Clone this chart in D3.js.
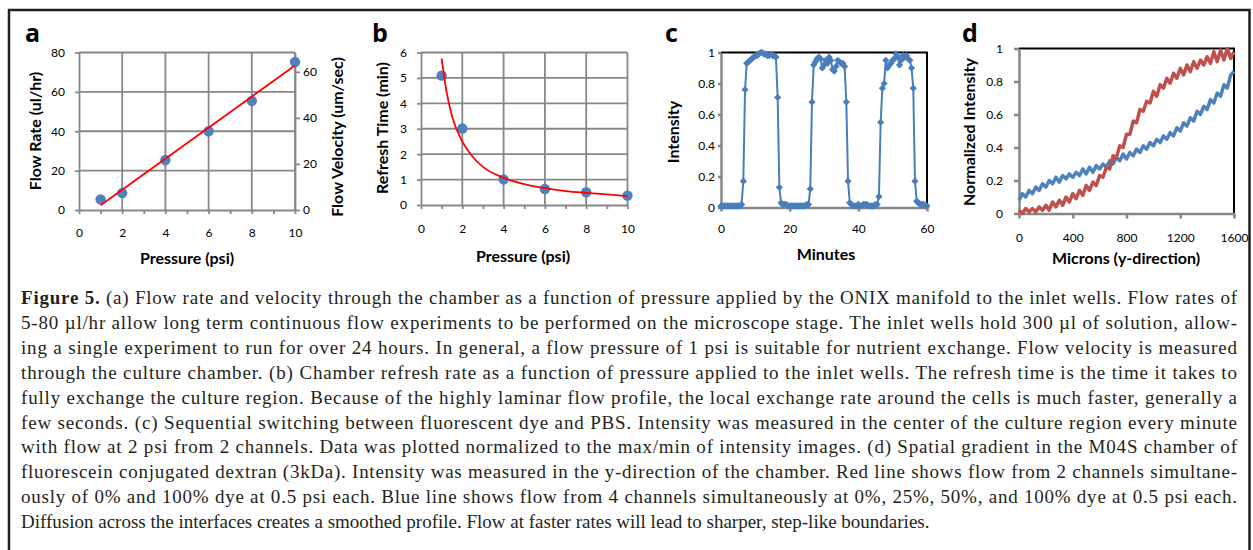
<!doctype html>
<html>
<head>
<script src="https://cdnjs.cloudflare.com/ajax/libs/d3/7.8.5/d3.min.js"></script>
<style>
  body { margin: 0; background: #fff; }
  svg { display: block; }
  .tick text { font-family: Lato, "Open Sans", sans-serif; font-size: 12px; fill: #000; }
  .axis-title { font-family: Lato, "Open Sans", sans-serif; font-weight: bold; font-size: 16px; fill: #000; }
  .panel-label { font-family: "Open Sans", sans-serif; font-weight: bold; font-size: 25px; fill: #000; }
  .caption { font-family: "Liberation Serif", serif; font-size: 19px; fill: #231f20; }
</style>
</head>
<body>
<svg width="1253" height="550"></svg>
<script>
// ---- panel a: flow rate vs pressure
const aPressure = [1, 2, 4, 6, 8, 10];
const aFlowRate = [5.4, 8.6, 25.4, 40, 55.4, 75.2];
const aFitX = [1, 10];
const aFitY = [2.4, 73.4];
const aTicksX = [0, 1, 2, 3, 4, 5, 6, 7, 8, 9, 10];
const aTicksY = [0, 20, 40, 60, 80];
const aTicksY2 = [0, 20, 40, 60];

// ---- panel b: refresh time vs pressure
const bPressure = [1, 2, 4, 6, 8, 10];
const bRefresh = [5.09, 3.01, 1.01, 0.63, 0.5, 0.37];
const bFitX = [1, 1.25, 1.5, 2, 2.5, 3, 4, 5, 6, 7, 8, 9, 10];
const bFitY = [5.76, 4.4, 3.5, 2.5, 1.9, 1.5, 1.07, 0.82, 0.66, 0.55, 0.48, 0.42, 0.35];
const bTicksY = [0, 1, 2, 3, 4, 5, 6];

// ---- panel c: intensity vs minutes
const cMinutes = [
  0, 0.5, 1, 1.5, 2, 2.5, 3, 3.5, 4, 4.5, 5, 5.5, 6, 6.5, 7, 7.5, 8, 8.5, 9, 9.5,
  10, 10.5, 11, 11.5, 12, 12.5, 13, 13.5, 14, 14.5, 15, 15.5, 16, 16.5, 17, 17.5, 18, 18.5, 19, 19.5,
  20, 20.5, 21, 21.5, 22, 22.5, 23, 23.5, 24, 24.5, 25, 25.5, 26, 26.5, 27, 27.5, 28, 28.5, 29, 29.5,
  30, 30.5, 31, 31.5, 32, 32.5, 33, 33.5, 34, 34.5, 35, 35.5, 36, 36.5, 37, 37.5, 38, 38.5, 39, 39.5,
  40, 40.5, 41, 41.5, 42, 42.5, 43, 43.5, 44, 44.5, 45, 45.5, 46, 46.5, 47, 47.5, 48, 48.5, 49, 49.5,
  50, 50.5, 51, 51.5, 52, 52.5, 53, 53.5, 54, 54.5, 55, 55.5, 56, 56.5, 57, 57.5, 58, 58.5, 59, 59.5, 60
];
const cIntensity = [
  0.01, 0.01, 0.01, 0.01, 0.01, 0.01, 0.01, 0.01, 0.01, 0.01, 0.01, 0.01, 0.02,
  0.17, 0.76, 0.93, 0.94, 0.95, 0.96, 0.97, 0.98, 0.98, 0.99, 1.0, 1.0, 0.99, 0.99, 0.98, 0.98, 0.99, 0.98, 0.98, 0.97,
  0.71, 0.13, 0.03, 0.02,
  0.02, 0.02, 0.01, 0.01, 0.01, 0.01, 0.01, 0.01, 0.01, 0.01, 0.01, 0.01, 0.01, 0.02, 0.02,
  0.12, 0.68, 0.92,
  0.94, 0.96, 0.97, 0.96, 0.90, 0.92, 0.95, 0.93, 0.97, 0.95, 0.89, 0.88, 0.91, 0.95, 0.94, 0.93, 0.93, 0.91,
  0.68, 0.17, 0.03,
  0.02, 0.01, 0.01, 0.01, 0.02, 0.01, 0.01, 0.02, 0.02, 0.02, 0.01, 0.01, 0.01, 0.01, 0.02, 0.02,
  0.07, 0.55, 0.77, 0.80,
  0.95, 0.90, 0.92, 0.93, 0.95, 0.96, 0.99, 0.97, 0.92, 0.95, 0.98, 0.97, 0.98, 0.96, 0.95, 0.90,
  0.77, 0.17, 0.04,
  0.03, 0.02, 0.02, 0.02, 0.01, 0.01
];
const cTicksX = [0, 20, 40, 60];
const cTicksY = [0, 0.2, 0.4, 0.6, 0.8, 1];

// ---- panel d: normalized intensity across the chamber
const dMicrons = [
  0, 25, 50, 75, 100, 125, 150, 175, 200, 225, 250, 275, 300, 325, 350, 375, 400, 425, 450, 475,
  500, 525, 550, 575, 600, 625, 650, 675, 700, 725, 750, 775, 800, 825, 850, 875, 900, 925, 950, 975,
  1000, 1025, 1050, 1075, 1100, 1125, 1150, 1175, 1200, 1225, 1250, 1275, 1300, 1325, 1350, 1375,
  1400, 1425, 1450, 1475, 1500, 1525, 1550, 1575, 1600
];
const dRed = [
  0.02, 0.00, 0.03, 0.01, 0.03, 0.01, 0.04, 0.02, 0.05, 0.02,
  0.07, 0.04, 0.08, 0.05, 0.10, 0.07, 0.12, 0.09, 0.14, 0.11,
  0.17, 0.14, 0.19, 0.17, 0.23, 0.22, 0.28, 0.27, 0.35, 0.34,
  0.41, 0.40, 0.48, 0.48, 0.56, 0.55, 0.63, 0.62, 0.68, 0.67,
  0.74, 0.71, 0.78, 0.76, 0.82, 0.79, 0.85, 0.82, 0.88, 0.84,
  0.90, 0.86, 0.92, 0.88, 0.93, 0.90, 0.95, 0.91, 0.98, 0.92,
  0.99, 0.93, 1.0, 0.94, 0.98
];
const dBlue = [
  0.08, 0.12, 0.10, 0.14, 0.12, 0.16, 0.14, 0.18, 0.16, 0.20,
  0.18, 0.22, 0.19, 0.23, 0.21, 0.24, 0.22, 0.25, 0.23, 0.27,
  0.24, 0.28, 0.25, 0.29, 0.27, 0.30, 0.28, 0.32, 0.30, 0.34,
  0.32, 0.36, 0.33, 0.37, 0.35, 0.39, 0.37, 0.41, 0.39, 0.43,
  0.41, 0.45, 0.43, 0.47, 0.45, 0.49, 0.47, 0.52, 0.50, 0.55,
  0.53, 0.58, 0.56, 0.62, 0.60, 0.65, 0.63, 0.69, 0.67, 0.73,
  0.71, 0.78, 0.76, 0.84, 0.86
];
const dTicksX = [0, 400, 800, 1200, 1600];
const dTicksY = [0, 0.2, 0.4, 0.6, 0.8, 1];

const captionLines = [
  "(a) Flow rate and velocity through the chamber as a function of pressure applied by the ONIX manifold to the inlet wells. Flow rates of",
  "5-80 µl/hr allow long term continuous flow experiments to be performed on the microscope stage. The inlet wells hold 300 µl of solution, allow-",
  "ing a single experiment to run for over 24 hours. In general, a flow pressure of 1 psi is suitable for nutrient exchange. Flow velocity is measured",
  "through the culture chamber. (b) Chamber refresh rate as a function of pressure applied to the inlet wells. The refresh time is the time it takes to",
  "fully exchange the culture region. Because of the highly laminar flow profile, the local exchange rate around the cells is much faster, generally a",
  "few seconds. (c) Sequential switching between fluorescent dye and PBS. Intensity was measured in the center of the culture region every minute",
  "with flow at 2 psi from 2 channels. Data was plotted normalized to the max/min of intensity images. (d) Spatial gradient in the M04S chamber of",
  "fluorescein conjugated dextran (3kDa). Intensity was measured in the y-direction of the chamber. Red line shows flow from 2 channels simultane-",
  "ously of 0% and 100% dye at 0.5 psi each. Blue line shows flow from 4 channels simultaneously at 0%, 25%, 50%, and 100% dye at 0.5 psi each.",
  "Diffusion across the interfaces creates a smoothed profile. Flow at faster rates will lead to sharper, step-like boundaries."
];

const svg = d3.select("svg");
const gray = "#878787";
const blue = "#4f81bd";
const red = "#c0504d";
const plain = d => d;

// outer frame
svg.append("path")
  .attr("d", "M9,552 L9,10 L1249.5,10 L1249.5,552")
  .attr("fill", "none")
  .attr("stroke", "#231f20")
  .attr("stroke-width", 2.5);

function styleAxis(g, w) {
  g.attr("font-family", null).attr("font-size", null);
  g.select(".domain").attr("stroke", gray).attr("stroke-width", w);
  g.selectAll(".tick line").attr("stroke", gray).attr("stroke-width", w);
}

function label(x, y, txt) {
  svg.append("text").attr("class", "panel-label").attr("x", x).attr("y", y).text(txt);
}

function xTitle(x, y, txt) {
  svg.append("text").attr("class", "axis-title")
    .attr("x", x).attr("y", y).attr("text-anchor", "middle").text(txt);
}

function yTitle(x, y, txt) {
  svg.append("text").attr("class", "axis-title")
    .attr("transform", "translate(" + x + "," + y + ") rotate(-90)")
    .attr("text-anchor", "middle").attr("dy", "0.35em").text(txt);
}

// ================= panel a =================
const xA = d3.scaleLinear().domain([0, 10]).range([79, 295]);
const yA = d3.scaleLinear().domain([0, 80]).range([210, 52.5]);
const yA2 = d3.scaleLinear().domain([0, 68.4]).range([210, 52.5]);

svg.append("g").selectAll("line")
  .data(aTicksX.filter(d => d > 0 && d % 2 === 0))
  .enter().append("line")
    .attr("x1", d => xA(d)).attr("x2", d => xA(d))
    .attr("y1", yA(0)).attr("y2", yA(80))
    .attr("stroke", gray).attr("stroke-width", 1.8);

svg.append("g").selectAll("line")
  .data(aTicksY.filter(d => d > 0))
  .enter().append("line")
    .attr("x1", xA(0)).attr("x2", xA(10))
    .attr("y1", d => yA(d)).attr("y2", d => yA(d))
    .attr("stroke", gray).attr("stroke-width", 1.8);

svg.append("g").attr("transform", "translate(0," + yA(0) + ")")
  .call(d3.axisBottom(xA).tickValues(aTicksX).tickSize(4).tickSizeOuter(0).tickPadding(14)
    .tickFormat(d => d % 2 === 0 ? d : ""))
  .call(g => styleAxis(g, 1.8));

svg.append("g").attr("transform", "translate(" + xA(0) + ",0)")
  .call(d3.axisLeft(yA).tickValues(aTicksY).tickSize(4).tickSizeOuter(0).tickPadding(10).tickFormat(plain))
  .call(g => styleAxis(g, 1.8));

svg.append("g").attr("transform", "translate(" + xA(10) + ",0)")
  .call(d3.axisRight(yA2).tickValues(aTicksY2).tickSize(5).tickSizeOuter(0).tickPadding(3).tickFormat(plain))
  .call(g => styleAxis(g, 1.8));

svg.append("g").selectAll("circle")
  .data(aPressure)
  .enter().append("circle")
    .attr("cx", d => xA(d))
    .attr("cy", (d, i) => yA(aFlowRate[i]))
    .attr("r", 5.2)
    .attr("fill", blue);

svg.append("path")
  .attr("d", d3.line().x(d => xA(d)).y((d, i) => yA(aFitY[i]))(aFitX))
  .attr("fill", "none").attr("stroke", "#ff0000").attr("stroke-width", 1.8);

label(25, 42, "a");
yTitle(35, 131, "Flow Rate (ul/hr)");
yTitle(337, 137, "Flow Velocity (um/sec)");
xTitle(187, 264, "Pressure (psi)");

// ================= panel b =================
const xB = d3.scaleLinear().domain([0, 10]).range([421, 627.5]);
const yB = d3.scaleLinear().domain([0, 6]).range([205, 52.5]);

svg.append("g").selectAll("line")
  .data([2, 4, 6, 8, 10])
  .enter().append("line")
    .attr("x1", d => xB(d)).attr("x2", d => xB(d))
    .attr("y1", yB(0)).attr("y2", yB(6))
    .attr("stroke", gray).attr("stroke-width", 1.8);

svg.append("g").selectAll("line")
  .data(bTicksY.filter(d => d > 0))
  .enter().append("line")
    .attr("x1", xB(0)).attr("x2", xB(10))
    .attr("y1", d => yB(d)).attr("y2", d => yB(d))
    .attr("stroke", gray).attr("stroke-width", 1.8);

svg.append("g").attr("transform", "translate(0," + yB(0) + ")")
  .call(d3.axisBottom(xB).tickValues(aTicksX).tickSize(4).tickSizeOuter(0).tickPadding(15)
    .tickFormat(d => d % 2 === 0 ? d : ""))
  .call(g => styleAxis(g, 1.8));

svg.append("g").attr("transform", "translate(" + xB(0) + ",0)")
  .call(d3.axisLeft(yB).tickValues(bTicksY).tickSize(4).tickSizeOuter(0).tickPadding(10).tickFormat(plain))
  .call(g => styleAxis(g, 1.8));

svg.append("g").selectAll("circle")
  .data(bPressure)
  .enter().append("circle")
    .attr("cx", d => xB(d))
    .attr("cy", (d, i) => yB(bRefresh[i]))
    .attr("r", 5.2)
    .attr("fill", blue);

svg.append("path")
  .attr("d", d3.line().curve(d3.curveMonotoneX).x(d => xB(d)).y((d, i) => yB(bFitY[i]))(bFitX))
  .attr("fill", "none").attr("stroke", "#ff0000").attr("stroke-width", 1.8);

label(372, 42, "b");
yTitle(382, 128, "Refresh Time (min)");
xTitle(523, 262, "Pressure (psi)");

// ================= panel c =================
const xC = d3.scaleLinear().domain([0, 60]).range([721, 927]);
const yC = d3.scaleLinear().domain([0, 1]).range([207.5, 52.5]);

svg.append("path")
  .attr("d", "M" + xC(0) + "," + yC(1) + "H" + xC(60) + "V" + yC(0))
  .attr("fill", "none").attr("stroke", "#000").attr("stroke-width", 2);

svg.append("g").attr("transform", "translate(0," + yC(0) + ")")
  .call(d3.axisBottom(xC).tickValues(cTicksX).tickSize(4).tickSizeOuter(0).tickPadding(13).tickFormat(plain))
  .call(g => styleAxis(g, 2.5));

svg.append("g").attr("transform", "translate(" + xC(0) + ",0)")
  .call(d3.axisLeft(yC).tickValues(cTicksY).tickSize(3).tickSizeOuter(0).tickPadding(3).tickFormat(plain))
  .call(g => styleAxis(g, 2.5));

svg.append("path")
  .attr("d", d3.line().x(d => xC(d)).y((d, i) => yC(cIntensity[i]))(cMinutes))
  .attr("fill", "none").attr("stroke", "#4a7ebb").attr("stroke-width", 2);

svg.append("g").selectAll("path")
  .data(cMinutes)
  .enter().append("path")
    .attr("d", d3.symbol(d3.symbolSquare, 26))
    .attr("transform", (d, i) => "translate(" + xC(d) + "," + yC(cIntensity[i]) + ") rotate(45)")
    .attr("fill", "#4a7ebb");

label(665, 42, "c");
yTitle(673, 132, "Intensity");
xTitle(826, 260, "Minutes");

// ================= panel d =================
const xD = d3.scaleLinear().domain([0, 1600]).range([1019, 1234]);
const yD = d3.scaleLinear().domain([0, 1]).range([213.5, 48.5]);

svg.append("path")
  .attr("d", "M" + xD(0) + "," + yD(1) + "H" + xD(1600) + "V" + yD(0))
  .attr("fill", "none").attr("stroke", "#000").attr("stroke-width", 2);

svg.append("g").attr("transform", "translate(0," + yD(0) + ")")
  .call(d3.axisBottom(xD).tickValues(dTicksX).tickSize(5).tickSizeOuter(0).tickPadding(15).tickFormat(plain))
  .call(g => styleAxis(g, 2.5));

svg.append("g").attr("transform", "translate(" + xD(0) + ",0)")
  .call(d3.axisLeft(yD).tickValues(dTicksY).tickSize(5).tickSizeOuter(0).tickPadding(11).tickFormat(plain))
  .call(g => styleAxis(g, 2.5));

svg.append("path")
  .attr("d", d3.line().x(d => xD(d)).y((d, i) => yD(dBlue[i]))(dMicrons))
  .attr("fill", "none").attr("stroke", blue).attr("stroke-width", 3.5)
  .attr("stroke-linejoin", "round");

svg.append("path")
  .attr("d", d3.line().x(d => xD(d)).y((d, i) => yD(dRed[i]))(dMicrons))
  .attr("fill", "none").attr("stroke", red).attr("stroke-width", 3.5)
  .attr("stroke-linejoin", "round");

label(962, 42, "d");
yTitle(969, 132, "Normalized Intensity");
xTitle(1126, 264, "Microns (y-direction)");

// ================= caption =================
const cap = svg.append("g");
captionLines.forEach((line, i) => {
  const t = cap.append("text")
    .attr("class", "caption")
    .attr("x", 21)
    .attr("y", 304 + i * 24.9);
  if (i === 0) {
    t.append("tspan").attr("font-weight", "bold").text("Figure 5. ");
  }
  t.append("tspan").text(line);
  if (i < captionLines.length - 1) {
    t.attr("textLength", 1216).attr("lengthAdjust", "spacing");
  }
});
</script>
</body>
</html>
